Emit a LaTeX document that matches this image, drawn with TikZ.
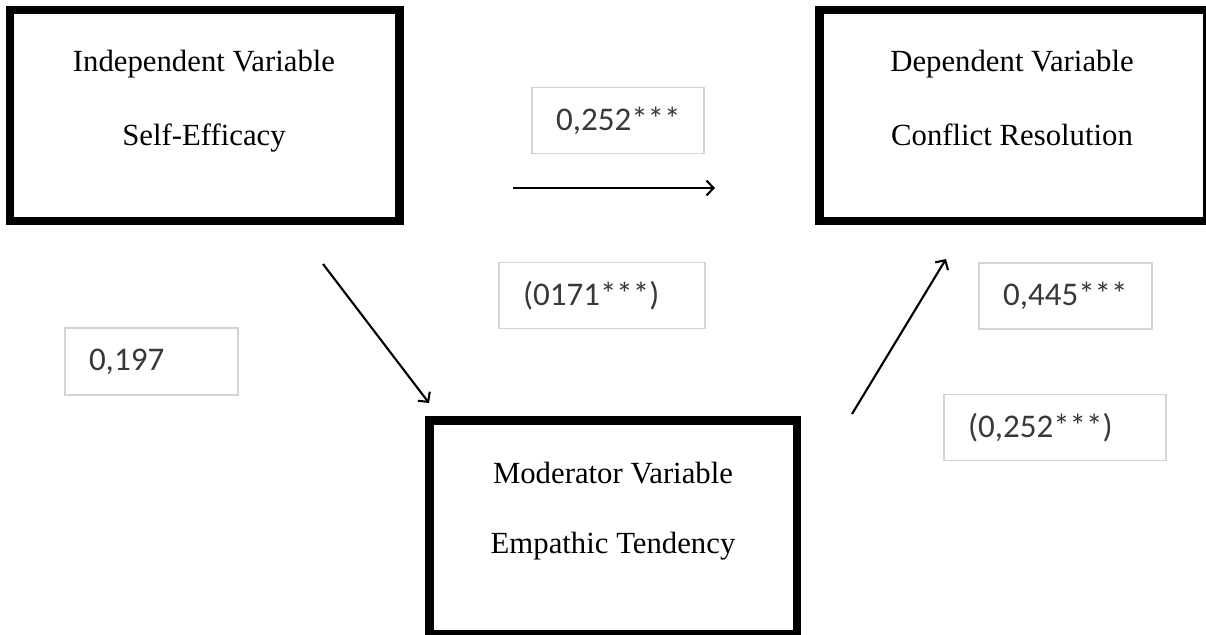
\documentclass[tikz,border=0pt]{standalone}
\usepackage{fontspec}
\setmainfont{Liberation Serif}
\newfontfamily\coeffont{Carlito}
\usetikzlibrary{positioning, arrows.meta}

\tikzset{
  varbox/.style={draw, line width=4.6pt, minimum width=#1, minimum height=4.22cm, inner sep=0pt},
  vartext/.style={anchor=base, inner sep=0pt, font=\fontsize{17.5}{20}\selectfont},
  coefbox/.style={draw=black!17, line width=0.7pt, text width=#1, minimum height=1.32cm,
    inner xsep=0.48cm, align=left, text=black!78, font=\coeffont\fontsize{18.8}{22}\selectfont},
  path/.style={line width=1.2pt, -{Straight Barb[length=4pt,width=8.5pt,line width=1.2pt]}}
}

\begin{document}
\begin{tikzpicture}
        \useasboundingbox (0,0) rectangle (24.12,-12.7);
        % variable boxes
        \node[varbox=7.79cm] (indep) at (4.095,-2.31) {};
        \node[varbox=7.76cm] (dep) at (20.27,-2.315) {};
        \node[varbox=7.35cm, minimum height=4.28cm] (moder) at (12.265,-10.55) {};
        \node[vartext] (indep_t) at (4.08,-1.44) {Independent Variable};
        \node[vartext] (indep_n) at (4.08,-2.90) {Self-Efficacy};
        \node[vartext] (dep_t) at (20.24,-1.44) {Dependent Variable};
        \node[vartext] (dep_n) at (20.24,-2.90) {Conflict Resolution};
        \node[vartext] (moder_t) at (12.26,-9.66) {Moderator Variable};
        \node[vartext] (moder_n) at (12.26,-11.07) {Empathic Tendency};
        % coefficients
        \node[coefbox=2.48cm] (c_direct) at (12.36,-2.41) {0,252***};
        \node[coefbox=3.16cm] (c_total) at (12.04,-5.91) {(0171***)};
        \node[coefbox=2.50cm, minimum height=1.34cm] (c_a) at (3.03,-7.23) {0,197};
        \node[coefbox=2.50cm] (c_b) at (21.31,-5.92) {0,445***};
        \node[coefbox=3.48cm] (c_bt) at (21.10,-8.55) {(0,252***)};
        % arrows
        \coordinate (a1s) at (10.26,-3.76);
        \coordinate (a1e) at (14.30,-3.76);
        \coordinate (a2s) at (6.46,-5.28);
        \coordinate (a2e) at (8.58,-8.06);
        \coordinate (a3s) at (17.04,-8.28);
        \coordinate (a3e) at (18.92,-5.18);
        \draw[path] (a1s) -- (a1e);
        \draw[path] (a2s) -- (a2e);
        \draw[path] (a3s) -- (a3e);
    \end{tikzpicture}
\end{document}
